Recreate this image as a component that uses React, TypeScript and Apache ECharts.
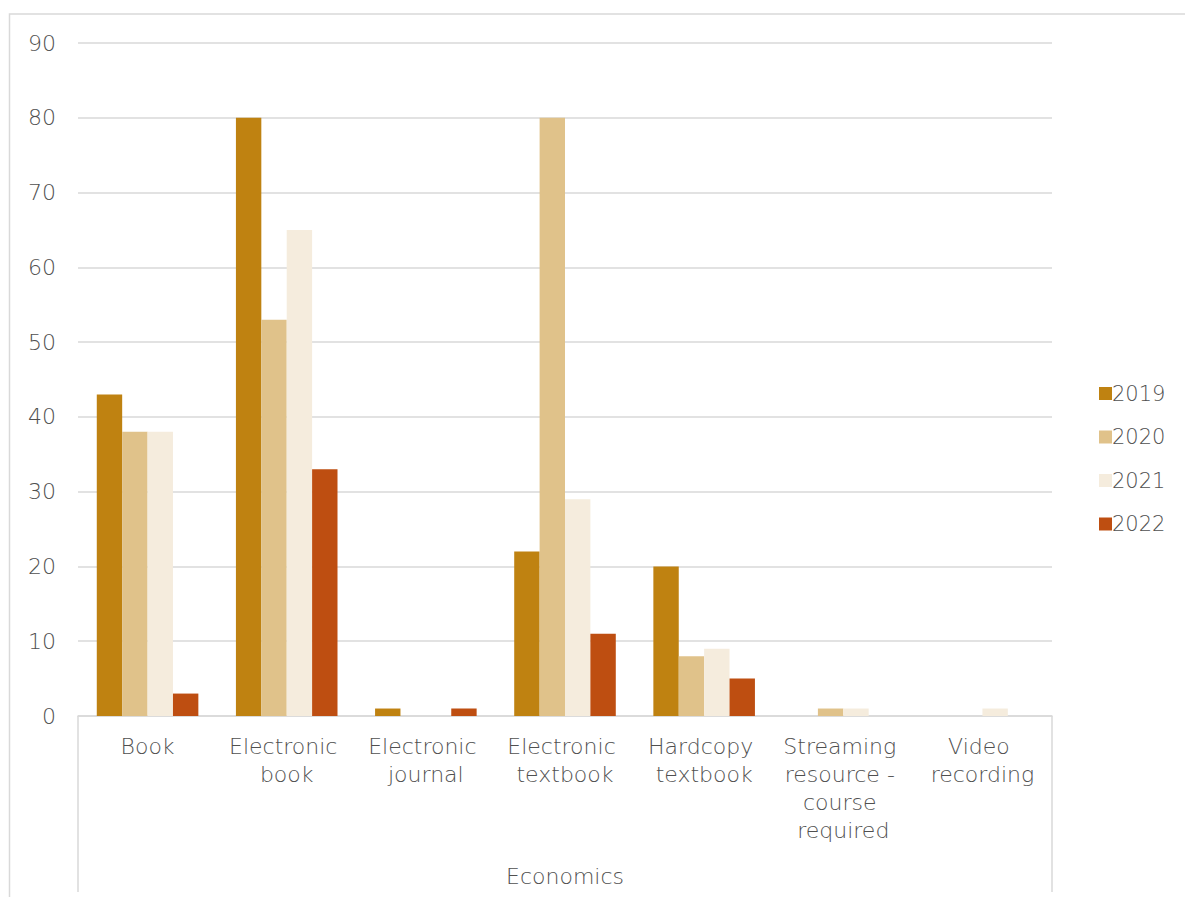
import React, { useEffect, useRef } from "react";
import * as echarts from "echarts";

const categories = [
  "Book",
  "Electronic book",
  "Electronic journal",
  "Electronic textbook",
  "Hardcopy textbook",
  "Streaming resource - course required",
  "Video recording",
];
const groupLabels = ["Economics"];
const seriesNames = ["2019", "2020", "2021", "2022"];
const values2019 = [43, 80, 1, 22, 20, 0, 0];
const values2020 = [38, 53, 0, 80, 8, 1, 0];
const values2021 = [38, 65, 0, 29, 9, 1, 1];
const values2022 = [3, 33, 1, 11, 5, 0, 0];
const colors = ["#BF8211", "#E0C28A", "#F5ECDD", "#BE4E11"];

const FONT = "'DejaVu Sans', 'Open Sans', sans-serif";
const TEXT = "#505050";
const FS = 22;
const FW = 200;

export default function App() {
  const ref = useRef<HTMLDivElement>(null);
  useEffect(() => {
    if (!ref.current) return;
    const chart = echarts.init(ref.current, null, { renderer: "svg" });
    const all = [values2019, values2020, values2021, values2022];
    chart.setOption({
      animation: false,
      textStyle: { fontFamily: FONT },
      grid: { left: 78, right: 133, top: 43, bottom: 181, containLabel: false },
      legend: {
        orient: "vertical",
        left: 1094,
        top: 378,
        itemWidth: 13,
        itemHeight: 13,
        itemGap: 22.5,
        icon: "rect",
        data: seriesNames,
        textStyle: { color: TEXT, fontSize: 21, fontWeight: FW, fontFamily: FONT, padding: [0, 0, 0, -5] },
      },
      xAxis: [
        {
          type: "category",
          data: categories,
          position: "bottom",
          axisLine: { show: true, lineStyle: { color: "#D9D9D9", width: 1.5 } },
          axisTick: { show: false },
          axisLabel: {
            interval: 0,
            color: TEXT,
            fontSize: FS,
            fontWeight: FW,
            fontFamily: FONT,
            lineHeight: 28,
            margin: 16,
            width: 130,
            overflow: "break",
          },
        },
        {
          type: "category",
          data: groupLabels,
          position: "bottom",
          axisLine: { show: false },
          axisTick: { show: true, length: 176, lineStyle: { color: "#D9D9D9", width: 1.5 } },
          axisLabel: { color: TEXT, fontSize: FS, fontWeight: FW, fontFamily: FONT, margin: 149 },
        },
      ],
      yAxis: {
        type: "value",
        min: 0,
        max: 90,
        interval: 10,
        axisLine: { show: false },
        axisTick: { show: false },
        axisLabel: { color: TEXT, fontSize: FS, fontWeight: FW, fontFamily: FONT, margin: 22 },
        splitLine: { lineStyle: { color: "#D9D9D9", width: 1.5 } },
      },
      graphic: [
        {
          type: "rect",
          shape: { x: 9.5, y: 14, width: 1200, height: 1000 },
          style: { fill: "none", stroke: "#D9D9D9", lineWidth: 1.5 },
          silent: true,
          z: -1,
        },
      ],
      series: seriesNames.map((name, i) => ({
        name,
        type: "bar",
        data: all[i],
        barGap: "0%",
        barCategoryGap: "27%",
        itemStyle: { color: colors[i] },
      })),
    });
    return () => chart.dispose();
  }, []);
  return <div ref={ref} style={{ width: 1185, height: 897, position: "absolute", left: 0, top: 0 }} />;
}
